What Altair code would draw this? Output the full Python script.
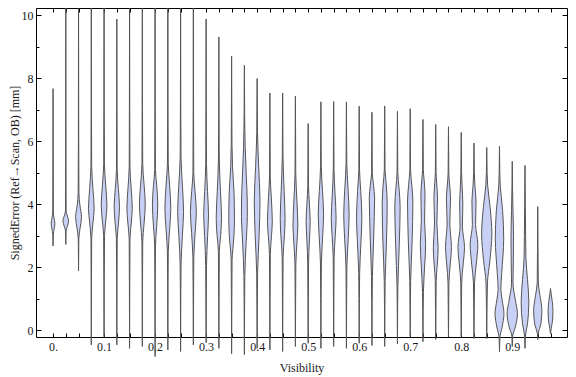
import altair as alt
import pandas as pd

# ---- data ----
visibility = [0.0, 0.025, 0.05, 0.075, 0.1, 0.125, 0.15, 0.175, 0.2, 0.225,
              0.25, 0.275, 0.3, 0.325, 0.35, 0.375, 0.4, 0.425, 0.45, 0.475,
              0.5, 0.525, 0.55, 0.575, 0.6, 0.625, 0.65, 0.675, 0.7, 0.725,
              0.75, 0.775, 0.8, 0.825, 0.85, 0.875, 0.9, 0.925, 0.95, 0.975]

# violin outlines: [signed error (mm), density half-width]
violin_shapes = [
    [(2.67, 0), (3.05, 0.3), (3.2, 1.2), (3.38, 2.1), (3.58, 1.0), (3.78, 0.3), (5.0, 0.2), (7.67, 0)],
    [(2.72, 0), (3.15, 0.3), (3.3, 1.8), (3.47, 3.2), (3.62, 1.8), (3.78, 0.35), (5.5, 0.2), (10.6, 0)],
    [(1.88, 0), (2.9, 0.3), (3.25, 1.8), (3.58, 3.3), (3.95, 1.6), (4.35, 0.4), (6.0, 0.2), (10.6, 0)],
    [(-0.47, 0), (1.5, 0.2), (2.9, 0.4), (3.4, 1.8), (3.87, 3.2), (4.5, 1.8), (5.2, 0.4), (7.0, 0.2), (10.6, 0)],
    [(-0.21, 0), (1.5, 0.2), (3.0, 0.5), (3.5, 2.0), (3.97, 3.2), (4.6, 1.8), (5.3, 0.4), (7.0, 0.2), (10.6, 0)],
    [(-0.47, 0), (1.5, 0.2), (2.9, 0.45), (3.4, 1.9), (3.92, 3.0), (4.5, 1.7), (5.1, 0.4), (7.0, 0.2), (9.88, 0)],
    [(-0.58, 0), (1.5, 0.2), (2.9, 0.45), (3.4, 1.9), (3.87, 3.0), (4.5, 1.8), (5.2, 0.4), (7.0, 0.2), (10.6, 0)],
    [(-0.52, 0), (1.5, 0.2), (2.8, 0.45), (3.4, 2.0), (4.0, 3.3), (4.6, 2.0), (5.3, 0.4), (7.0, 0.2), (10.6, 0)],
    [(-0.84, 0), (1.5, 0.2), (2.7, 0.45), (3.3, 1.8), (3.97, 3.0), (4.6, 1.8), (5.1, 0.4), (7.0, 0.2), (10.6, 0)],
    [(-0.63, 0), (1.5, 0.25), (2.5, 0.5), (3.2, 2.0), (3.87, 3.3), (4.6, 2.0), (5.3, 0.45), (7.0, 0.2), (10.6, 0)],
    [(-0.68, 0), (1.2, 0.25), (2.1, 0.5), (3.0, 2.0), (3.76, 3.3), (4.6, 2.0), (5.5, 0.45), (7.2, 0.2), (10.6, 0)],
    [(-0.47, 0), (1.2, 0.25), (2.3, 0.5), (3.1, 2.0), (3.76, 3.3), (4.4, 1.9), (5.0, 0.45), (7.0, 0.2), (10.6, 0)],
    [(-0.40, 0), (1.0, 0.25), (2.05, 0.45), (3.0, 1.7), (3.66, 2.7), (4.4, 1.6), (5.3, 0.4), (7.0, 0.2), (9.88, 0)],
    [(-0.58, 0), (1.0, 0.25), (2.5, 0.5), (3.0, 2.0), (3.55, 3.0), (4.4, 1.8), (5.5, 0.4), (7.0, 0.2), (9.31, 0)],
    [(-0.75, 0), (1.0, 0.25), (2.2, 0.5), (3.0, 2.6), (3.6, 3.2), (4.3, 2.8), (5.2, 1.0), (5.9, 0.4), (7.2, 0.2), (8.70, 0)],
    [(-0.78, 0), (0.8, 0.25), (1.7, 0.5), (2.8, 2.0), (3.6, 3.3), (4.1, 3.2), (4.8, 2.3), (5.8, 0.9), (6.9, 0.3), (8.41, 0)],
    [(-0.58, 0), (0.8, 0.25), (1.8, 0.5), (3.0, 2.2), (4.1, 3.2), (5.2, 1.7), (6.3, 0.4), (7.99, 0)],
    [(-0.63, 0), (1.0, 0.25), (2.4, 0.5), (3.0, 1.8), (3.45, 2.7), (4.2, 1.6), (4.9, 0.4), (7.53, 0)],
    [(-0.68, 0), (1.0, 0.25), (2.3, 0.5), (3.0, 2.0), (3.55, 2.7), (4.4, 1.7), (5.5, 0.4), (7.53, 0)],
    [(-0.52, 0), (1.0, 0.25), (2.1, 0.5), (2.8, 1.8), (3.34, 2.7), (4.1, 1.7), (5.0, 0.4), (7.43, 0)],
    [(-0.42, 0), (1.0, 0.25), (2.1, 0.45), (2.9, 1.5), (3.45, 2.3), (4.0, 1.4), (4.6, 0.4), (6.56, 0)],
    [(-0.58, 0), (1.0, 0.25), (2.1, 0.5), (3.0, 2.0), (3.66, 3.0), (4.4, 1.8), (5.2, 0.4), (7.25, 0)],
    [(-0.52, 0), (1.0, 0.25), (2.3, 0.5), (3.0, 1.8), (3.55, 2.7), (4.3, 1.6), (5.1, 0.4), (7.26, 0)],
    [(-0.58, 0), (1.0, 0.25), (2.0, 0.5), (2.9, 2.0), (3.66, 3.0), (4.5, 1.8), (5.3, 0.4), (7.25, 0)],
    [(-0.42, 0), (1.0, 0.25), (1.8, 0.5), (2.8, 2.0), (3.55, 3.0), (4.4, 1.8), (5.1, 0.4), (7.11, 0)],
    [(-0.49, 0), (0.9, 0.25), (1.7, 0.5), (2.8, 1.8), (3.6, 2.6), (4.2, 3.0), (4.6, 1.8), (5.0, 0.4), (6.92, 0)],
    [(-0.52, 0), (0.8, 0.25), (1.57, 0.5), (2.8, 2.0), (4.0, 2.8), (4.6, 1.8), (5.1, 0.4), (7.12, 0)],
    [(-0.44, 0), (0.8, 0.25), (1.4, 0.5), (2.7, 2.0), (3.9, 3.0), (4.5, 1.8), (5.0, 0.4), (6.95, 0)],
    [(-0.20, 0), (0.8, 0.25), (1.57, 0.5), (2.8, 2.1), (4.1, 3.0), (4.6, 1.8), (5.1, 0.4), (7.03, 0)],
    [(-0.37, 0), (0.6, 0.25), (1.2, 0.5), (2.0, 1.8), (2.72, 3.0), (3.5, 1.8), (4.3, 2.3), (4.8, 1.2), (5.1, 0.4), (6.69, 0)],
    [(-0.30, 0), (0.6, 0.25), (1.57, 0.5), (2.1, 1.8), (2.62, 2.7), (3.4, 1.3), (4.2, 2.0), (4.7, 1.0), (5.0, 0.4), (6.53, 0)],
    [(-0.20, 0), (0.6, 0.25), (1.5, 0.5), (2.1, 2.0), (2.62, 3.3), (3.4, 1.5), (4.2, 2.3), (4.7, 1.0), (5.0, 0.4), (6.46, 0)],
    [(-0.20, 0), (0.6, 0.25), (1.5, 0.5), (2.1, 2.2), (2.62, 3.7), (3.3, 1.3), (4.0, 1.8), (4.6, 0.9), (5.0, 0.4), (6.28, 0)],
    [(-0.27, 0), (0.6, 0.25), (1.5, 0.6), (2.1, 2.6), (2.72, 4.3), (3.35, 1.8), (4.1, 2.3), (4.6, 1.0), (5.0, 0.4), (5.94, 0)],
    [(-0.27, 0), (0.6, 0.3), (1.5, 0.8), (2.2, 3.5), (3.05, 5.7), (3.9, 3.8), (4.6, 1.0), (5.0, 0.4), (5.80, 0)],
    [(-0.69, 0), (-0.25, 0.4), (0.1, 3.0), (0.52, 5.0), (0.95, 3.0), (1.3, 1.5), (1.8, 2.5), (2.9, 4.7), (3.8, 3.5), (4.6, 0.8), (5.0, 0.35), (5.84, 0)],
    [(-0.52, 0), (-0.2, 0.4), (0.1, 3.5), (0.52, 5.8), (0.95, 3.5), (1.5, 0.8), (2.2, 1.2), (3.0, 1.4), (3.8, 0.8), (4.5, 0.35), (5.36, 0)],
    [(-0.58, 0), (-0.2, 0.4), (0.2, 2.8), (0.9, 4.3), (1.6, 2.8), (2.3, 1.0), (3.0, 0.7), (4.0, 0.35), (5.23, 0)],
    [(-0.30, 0), (-0.1, 0.5), (0.2, 3.5), (0.63, 4.6), (1.1, 2.5), (1.5, 0.6), (2.5, 0.3), (3.92, 0)],
    [(-0.12, 0), (0.05, 0.8), (0.35, 2.4), (0.6, 2.7), (0.9, 2.0), (1.15, 0.7), (1.32, 0)],
]

x_tick_values = [0.0, 0.1, 0.2, 0.3, 0.4, 0.5, 0.6, 0.7, 0.8, 0.9]
x_tick_labels = ["0.", "0.1", "0.2", "0.3", "0.4", "0.5", "0.6", "0.7", "0.8", "0.9"]
y_label_values = [0, 2, 4, 6, 8, 10]
y_tick_values = [0, 1, 2, 3, 4, 5, 6, 7, 8, 9, 10]

x_title = "Visibility"
y_title = "SignedError (Ref\u2192Scan, OB) [mm]"

# ---- build table ----
DENSITY_SCALE = 0.00175  # density unit -> visibility units
rows = []
for k, (c, shape) in enumerate(zip(visibility, violin_shapes)):
    for v, d in shape:
        rows.append({"violin": k, "center": c, "value": v,
                     "lo": c - d * DENSITY_SCALE, "hi": c + d * DENSITY_SCALE})
df = pd.DataFrame(rows)

W, H = 531, 329
FONT = "Liberation Serif"
TXT = "#1a1a1a"
xs = alt.Scale(domain=[-0.0334, 1.0073], nice=False, zero=False)
ys = alt.Scale(domain=[-0.22, 10.23], nice=False, zero=False)

label_js = "[" + ",".join("'%s'" % s for s in x_tick_labels) + "]"
vals_js = "[" + ",".join(repr(v) for v in x_tick_values) + "]"
label_expr = f"{label_js}[indexof({vals_js}, datum.value)]"

violins = alt.Chart(df).mark_area(
    orient="horizontal", interpolate="monotone", fill="#c9d0f6",
    stroke="#555555", strokeWidth=1, strokeJoin="round", clip=False
).encode(
    y=alt.Y("value:Q", scale=ys, axis=alt.Axis(
        orient="left", values=y_label_values, ticks=False, tickSize=0,
        domain=False, grid=False, labelPadding=3, labelFont=FONT,
        labelFontSize=12, labelColor=TXT, labelOverlap=False,
        title=y_title, titleFont=FONT, titleFontSize=12,
        titleFontWeight="normal", titleColor=TXT,
        titleX=-15, titleY=H / 2, titleAngle=270, titleAlign="center",
        titleBaseline="bottom")),
    x=alt.X("lo:Q", scale=xs, axis=alt.Axis(
        orient="bottom", values=x_tick_values, labelExpr=label_expr,
        ticks=False, tickSize=0, domain=False, grid=False, labelPadding=4,
        labelFont=FONT, labelFontSize=12, labelColor=TXT, labelFlush=False,
        labelOverlap=False, title=x_title, titleFont=FONT, titleFontSize=12,
        titleFontWeight="normal", titleColor=TXT, titlePadding=10)),
    x2="hi:Q",
    detail="violin:N",
)

ytick_size = {"condition": {"test": "datum.value % 2 === 0", "value": 5}, "value": 3}

def tick_axis(orient, offset, values, size):
    return alt.Axis(orient=orient, offset=offset, values=values, labels=False,
                    domain=False, grid=False, ticks=True, tickSize=size,
                    tickColor="#000", tickWidth=1, title=None)

ticks_a = alt.Chart(df).mark_point(opacity=0).encode(
    x=alt.X("center:Q", scale=xs, axis=tick_axis("top", -H, visibility, 4)),
    y=alt.Y("value:Q", scale=ys, axis=tick_axis("right", -W, y_tick_values, ytick_size)),
)
ticks_b = alt.Chart(df).mark_point(opacity=0).encode(
    x=alt.X("center:Q", scale=xs, axis=tick_axis("bottom", -H, visibility, 4)),
    y=alt.Y("value:Q", scale=ys, axis=tick_axis("left", -W, y_tick_values, ytick_size)),
)

chart = alt.layer(violins, ticks_a, ticks_b).resolve_axis(
    x="independent", y="independent"
).properties(
    width=W, height=H,
    padding={"left": 28, "top": 0, "right": 1, "bottom": 40},
    autosize=alt.AutoSizeParams(type="none"),
    background="white",
).configure_view(stroke="#000", strokeWidth=1)

chart.save("out.html", embed_options={"renderer": "svg", "actions": False})
